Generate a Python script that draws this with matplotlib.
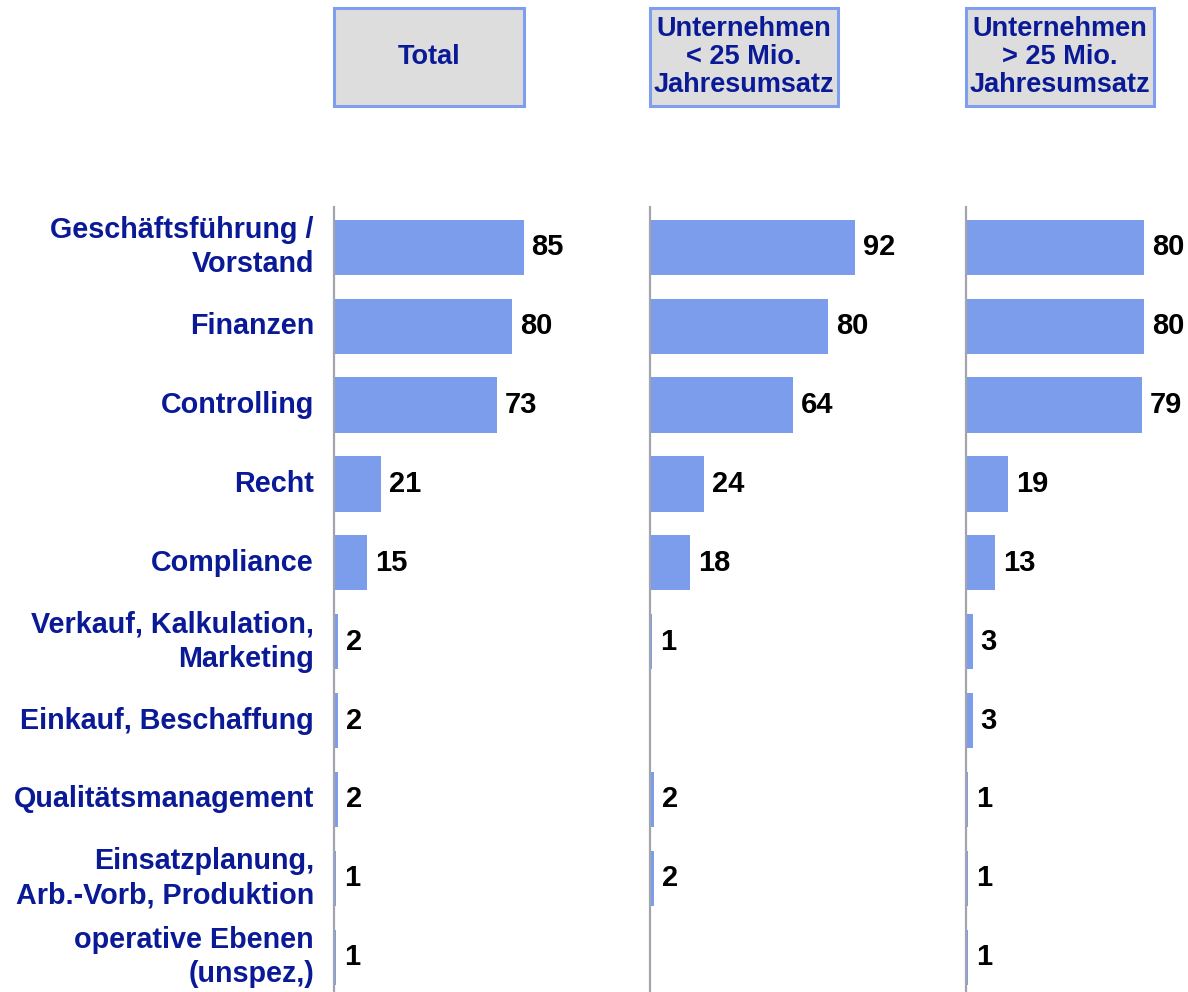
import matplotlib.pyplot as plt
from matplotlib.patches import Rectangle

# Data
categories = ['Geschäftsführung /\nVorstand', 'Finanzen', 'Controlling', 'Recht',
              'Compliance', 'Verkauf, Kalkulation,\nMarketing', 'Einkauf, Beschaffung',
              'Qualitätsmanagement', 'Einsatzplanung,\nArb.-Vorb, Produktion',
              'operative Ebenen\n(unspez,)']
total = [85, 80, 73, 21, 15, 2, 2, 2, 1, 1]
small = [92, 80, 64, 24, 18, 1, None, 2, 2, None]
large = [80, 80, 79, 19, 13, 3, 3, 1, 1, 1]
headers = ['Total', 'Unternehmen\n< 25 Mio.\nJahresumsatz', 'Unternehmen\n> 25 Mio.\nJahresumsatz']

plt.rcParams['font.family'] = ['Liberation Sans', 'DejaVu Sans']
plt.rcParams['font.weight'] = 'bold'

W, H = 1188, 992
fig = plt.figure(figsize=(W / 100, H / 100), dpi=100)

bar_color = '#7b9deb'
label_color = '#0a1a96'
axis_color = '#a4a4ac'

def px(x, y, w, h):
    # pixel box (top-left origin) -> figure fraction
    return [x / W, 1 - (y + h) / H, w / W, h / H]

lefts = [334, 650, 966]
box_widths = [190, 188, 188]
series = [total, small, large]

for i, (left, vals) in enumerate(zip(lefts, series)):
    ax = fig.add_axes(px(left, 207, 223, 785))
    pos = list(range(len(categories)))
    widths = [v if v is not None else 0 for v in vals]
    ax.barh(pos, widths, height=0.7, color=bar_color, zorder=1)
    for y, v in zip(pos, vals):
        if v is None:
            continue
        ax.annotate(str(v), xy=(v, y), xytext=(8, 0), textcoords='offset pixels',
                    ha='left', va='center', fontsize=21, fontweight='bold',
                    color='black', annotation_clip=False)
    ax.set_xlim(0, 100)
    ax.set_ylim(9.44, -0.51)
    for s in ['top', 'right', 'bottom']:
        ax.spines[s].set_visible(False)
    ax.spines['left'].set_color(axis_color)
    ax.spines['left'].set_linewidth(1.6)
    ax.set_xticks([])
    ax.set_yticks([])
    if i == 0:
        for y, c in zip(pos, categories):
            ax.annotate(c, xy=(0, y), xytext=(-20, 0), textcoords='offset pixels',
                        ha='right', va='center', ma='right', fontsize=20.7,
                        fontweight='bold', color=label_color, linespacing=1.28,
                        annotation_clip=False)

    # header box
    bx = fig.add_axes(px(left, 8, box_widths[i], 98))
    bx.set_xlim(0, 1)
    bx.set_ylim(0, 1)
    bx.axis('off')
    bx.add_patch(Rectangle((0, 0), 1, 1, facecolor='#dddddd', edgecolor='#7f9fee',
                           linewidth=2.2, transform=bx.transAxes, clip_on=False))
    bx.text(0.5, 0.5, headers[i], ha='center', va='center', fontsize=19.5,
            fontweight='bold', color=label_color, linespacing=1.12)

fig.savefig('out.png', dpi=100)
